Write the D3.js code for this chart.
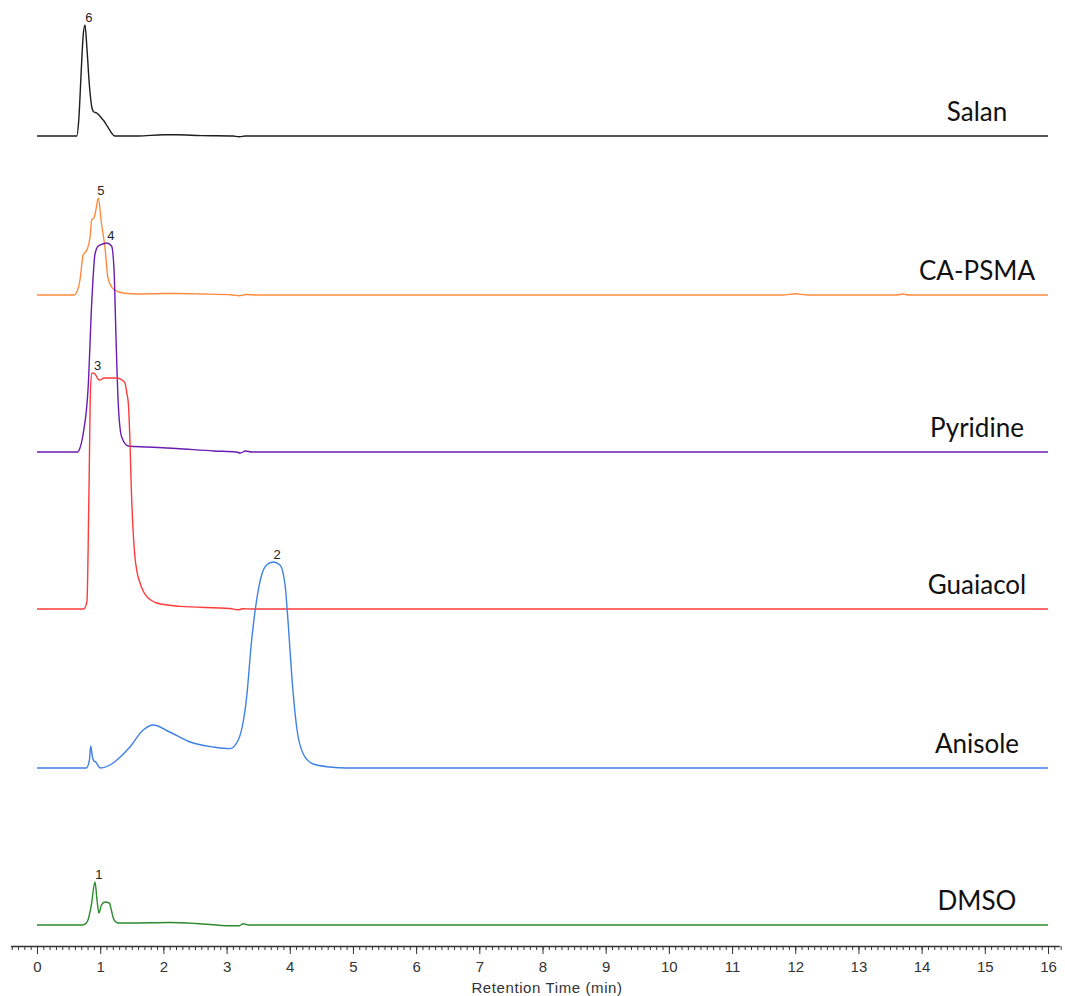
<!DOCTYPE html>
<html>
<head>
<meta charset="utf-8">
<script src="https://cdn.jsdelivr.net/npm/d3@7/dist/d3.min.js"></script>
<style>
  html, body { margin: 0; padding: 0; background: #fff; }
  svg { display: block; }
</style>
</head>
<body>
<svg id="chart" width="1065" height="996"></svg>
<script>
// Stacked HPLC chromatograms: retention time (min) vs detector response (mAU, offset per sample)

const sampleNames = ["Salan", "CA-PSMA", "Pyridine", "Guaiacol", "Anisole", "DMSO"];
const sampleColors = ["#1c1c1c", "#ff8a3d", "#6a1cb3", "#ff3a3a", "#3f80e6", "#2b8a2b"];
const sampleOffsets = [810, 651, 494, 337, 178, 21];

// Peak numbering: [label, retention time]
const peakLabels = [["6", 0.82], ["5", 1.01], ["4", 1.17], ["3", 0.96], ["2", 3.80], ["1", 0.98]];

const salanTime  = [0, 0.63, 0.66, 0.70, 0.73, 0.76, 0.79, 0.83, 0.87, 0.90, 0.945, 0.98, 1.02, 1.06, 1.10, 1.15, 1.18, 1.23, 1.6, 2.0, 2.2, 2.6, 3.1, 3.2, 3.3, 3.6, 16];
const salanValue = [0, 0, 15, 65, 100, 111, 88, 50, 28, 24, 23, 21, 18, 15, 11, 6, 3, 0, 0, 1.2, 1.2, 0.4, 0, -0.8, 0, 0, 0];

const capsmaTime  = [0, 0.59, 0.63, 0.68, 0.73, 0.79, 0.84, 0.865, 0.90, 0.935, 0.97, 1.02, 1.08, 1.12, 1.18, 1.23, 1.36, 1.6, 2.0, 2.2, 2.6, 3.1, 3.2, 3.3, 3.5, 11.8, 12.0, 12.2, 13.6, 13.7, 13.8, 16];
const capsmaValue = [0, 0, 3, 15, 40, 45, 58, 75, 77, 86, 97, 72, 45, 18, 8, 5, 2, 1, 1.5, 1.5, 1, 0, -0.8, 0.5, 0, 0, 1.2, 0, 0, 1, 0, 0];

const pyridineTime  = [0, 0.64, 0.68, 0.73, 0.81, 0.865, 0.918, 0.97, 1.04, 1.10, 1.18, 1.22, 1.25, 1.286, 1.34, 1.445, 1.74, 2.2, 2.8, 3.15, 3.22, 3.3, 3.4, 16];
const pyridineValue = [0, 0, 4, 18, 65, 148, 198, 206, 208, 209, 206, 181, 115, 48, 15, 6, 5, 3.5, 1, 0, -1, 1, 0, 0];

const guaiacolTime  = [0, 0.74, 0.759, 0.791, 0.823, 0.847, 0.870, 0.918, 0.965, 0.997, 1.060, 1.155, 1.266, 1.345, 1.392, 1.424, 1.445, 1.47, 1.49, 1.524, 1.55, 1.58, 1.62, 1.68, 1.736, 1.80, 1.894, 2.263, 3.054, 3.18, 3.26, 3.4, 16];
const guaiacolValue = [0, 0, 1, 8, 120, 220, 236, 235, 230, 229, 231, 231, 231, 229, 226, 215, 206, 170, 125, 75, 52, 38, 28, 18, 12.6, 9, 6, 2.6, 0.5, -0.8, 0.3, 0, 0];

const anisoleTime  = [0, 0.78, 0.83, 0.85, 0.875, 0.90, 0.93, 0.97, 1.0, 1.155, 1.30, 1.47, 1.68, 1.84, 2.10, 2.42, 2.79, 3.054, 3.185, 3.318, 3.397, 3.476, 3.555, 3.634, 3.739, 3.845, 3.924, 3.976, 4.03, 4.109, 4.214, 4.372, 4.636, 4.9, 16];
const anisoleValue = [0, 0, 8, 22, 12, 7, 6, 2, 0, 3, 10, 21, 38, 43, 36, 26, 21, 19.4, 28, 71, 128, 168, 193, 203, 206, 203, 184, 144, 94, 41, 14, 4, 1, 0, 0];

const dmsoTime  = [0, 0.73, 0.80, 0.86, 0.918, 0.95, 0.98, 1.02, 1.076, 1.144, 1.18, 1.207, 1.25, 1.286, 1.47, 2.10, 2.53, 3.054, 3.2, 3.264, 3.35, 3.58, 16];
const dmsoValue = [0, 0, 4, 20, 43, 25, 12, 20, 23, 22, 14, 7, 3, 2, 2, 2.5, 1.5, -0.8, -0.8, 1.2, 0, 0, 0];

const sampleTimes  = [salanTime, capsmaTime, pyridineTime, guaiacolTime, anisoleTime, dmsoTime];
const sampleValues = [salanValue, capsmaValue, pyridineValue, guaiacolValue, anisoleValue, dmsoValue];

const majorTicks = d3.range(0, 17);
const minorTicks = d3.range(-4, 163).map(d => d / 10);
const axisTitle = "Retention Time (min)";

const svg = d3.select("#chart");

const x = d3.scaleLinear().domain([0, 16]).range([37, 1048]);
const y = d3.scaleLinear().domain([0, 946]).range([946, 0]);

const line = d3.line()
  .x(d => x(d[0]))
  .y(d => y(d[1]))
  .curve(d3.curveMonotoneX);

// traces
sampleNames.forEach((name, i) => {
  const off = sampleOffsets[i];
  const pts = sampleTimes[i].map((t, k) => [t, sampleValues[i][k] + off]);
  svg.append("path")
    .datum(pts)
    .attr("d", line)
    .attr("fill", "none")
    .attr("stroke", sampleColors[i])
    .attr("stroke-width", 1.4)
    .attr("stroke-linejoin", "round");

  // peak number
  const [lab, t] = peakLabels[i];
  const top = d3.max(sampleValues[i]) + off;
  svg.append("text")
    .attr("x", x(t))
    .attr("y", y(top) - 3)
    .attr("text-anchor", "middle")
    .attr("font-family", "'Liberation Sans', Arial, sans-serif")
    .attr("font-size", 13)
    .attr("fill", "#222")
    .text(lab);

  // sample name
  svg.append("text")
    .attr("x", 977)
    .attr("y", y(off) - 15)
    .attr("text-anchor", "middle")
    .attr("font-family", "Lato, 'Open Sans', sans-serif")
    .attr("font-size", 26)
    .attr("fill", "#111")
    .text(name);
});

// time axis
const axisScale = x.copy().domain([-0.42, 16.18]).range([x(-0.42), x(16.18)]);
const axisY = 946;

const minorAxis = d3.axisBottom(axisScale)
  .tickValues(minorTicks)
  .tickSize(4)
  .tickSizeOuter(0)
  .tickFormat("");
const gMinor = svg.append("g").attr("transform", `translate(0,${axisY})`).call(minorAxis);
gMinor.select(".domain").attr("stroke", "#333").attr("stroke-width", 1.3);
gMinor.selectAll(".tick line").attr("stroke", "#333");

const majorAxis = d3.axisBottom(axisScale)
  .tickValues(majorTicks)
  .tickSize(8)
  .tickSizeOuter(0)
  .tickPadding(7)
  .tickFormat(d3.format("d"));
const gMajor = svg.append("g").attr("transform", `translate(0,${axisY})`).call(majorAxis);
gMajor.select(".domain").remove();
gMajor.selectAll(".tick line").attr("stroke", "#333");
gMajor.selectAll(".tick text")
  .attr("font-family", "'Liberation Sans', Arial, sans-serif")
  .attr("font-size", 15)
  .attr("fill", "#333");

svg.append("text")
  .attr("x", 547)
  .attr("y", 993)
  .attr("text-anchor", "middle")
  .attr("font-family", "'Liberation Sans', Arial, sans-serif")
  .attr("font-size", 15)
  .attr("letter-spacing", 0.6)
  .attr("fill", "#333")
  .text(axisTitle);
</script>
</body>
</html>
